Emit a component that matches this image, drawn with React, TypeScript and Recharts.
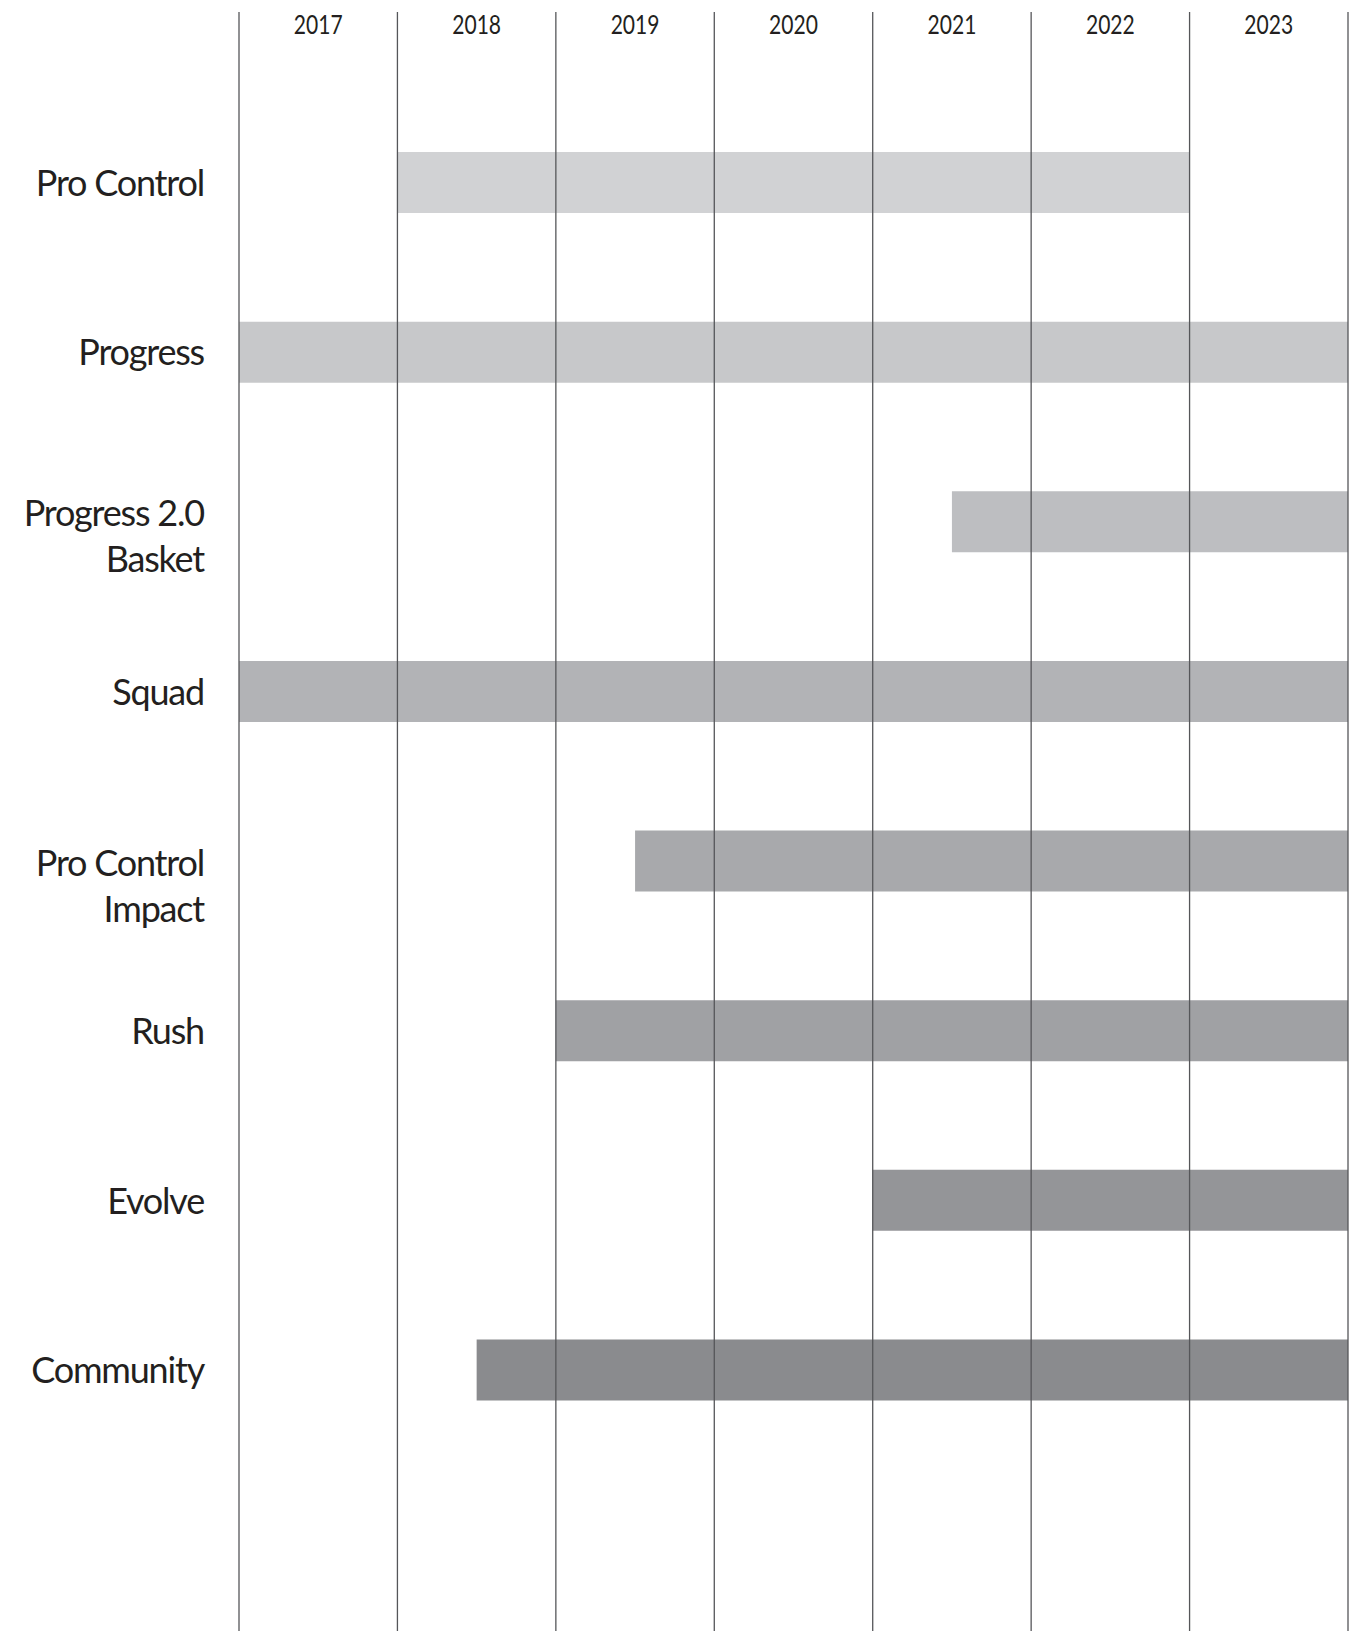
import { Bar, BarChart, Cell, ReferenceLine, XAxis, YAxis } from "recharts";

// product names, "\n" marks where the label wraps
const products = [
  "Pro Control",
  "Progress",
  "Progress 2.0\nBasket",
  "Squad",
  "Pro Control\nImpact",
  "Rush",
  "Evolve",
  "Community",
];

const startYears = [2018, 2017, 2021.5, 2017, 2019.5, 2019, 2021, 2018.5];
const endYears = [2023, 2024, 2024, 2024, 2024, 2024, 2024, 2024];

// year boundaries; each year label sits between two of them
const gridYears = [2017, 2018, 2019, 2020, 2021, 2022, 2023, 2024];

const barColors = [
  "#d1d2d4",
  "#c7c8ca",
  "#bdbec1",
  "#b2b3b6",
  "#a8a9ac",
  "#a0a1a4",
  "#949598",
  "#8a8b8e",
];

const data = products.map((name, i) => ({
  name,
  range: [startYears[i], endYears[i]],
}));

const INK = "#231f20";

// two-line labels don't sit the same way against their bars
const firstLineShift: Record<string, number> = {
  "Progress 2.0\nBasket": -9,
  "Pro Control\nImpact": 2,
};

function ProductTick({ x, y, payload }: any) {
  const value = String(payload?.value ?? "");
  const lines = value.split("\n");
  const shift = firstLineShift[value] ?? 0;

  return (
    <text
      x={x}
      y={y}
      textAnchor="end"
      fill={INK}
      style={{ fontFamily: "Lato, sans-serif", fontSize: 36, letterSpacing: -1.2 }}
    >
      {lines.map((line, i) => (
        <tspan key={i} x={x} y={y + shift + i * 46} dy="0.36em">
          {line}
        </tspan>
      ))}
    </text>
  );
}

function YearTick({ x, y, payload, index, width }: any) {
  // the last boundary has no year after it
  if (index >= gridYears.length - 1) return null;
  const half = Number(width) / (gridYears.length - 1) / 2;

  // the printed digits are condensed, so squeeze them a little sideways
  return (
    <text
      transform={`translate(${x + half}, ${y}) scale(0.78, 1)`}
      x={0}
      y={0}
      dy="0.36em"
      textAnchor="middle"
      fill={INK}
      style={{ fontFamily: "Lato, sans-serif", fontSize: 27 }}
    >
      {payload?.value}
    </text>
  );
}

export default function App() {
  return (
    <div style={{ position: "absolute", left: 0, top: 0, width: 1351, height: 1631, background: "#fff" }}>
      <BarChart
        width={1351}
        height={1631}
        data={data}
        layout="vertical"
        margin={{ top: 12, right: 3, bottom: 0, left: 0 }}
      >
        <XAxis
          type="number"
          orientation="top"
          domain={[2017, 2024]}
          ticks={gridYears}
          interval={0}
          mirror
          axisLine={false}
          tickLine={false}
          tickSize={0}
          tickMargin={12}
          tick={<YearTick />}
        />
        <YAxis
          type="category"
          dataKey="name"
          width={239}
          axisLine={false}
          tickLine={false}
          tickSize={0}
          tickMargin={35}
          padding={{ top: 86, bottom: 176 }}
          tick={<ProductTick />}
          interval={0}
        />
        <Bar dataKey="range" barSize={61} isAnimationActive={false}>
          {data.map((d, i) => (
            <Cell key={d.name} fill={barColors[i]} />
          ))}
        </Bar>
        {gridYears.map((year) => (
          <ReferenceLine
            key={year}
            x={year}
            stroke="#555659"
            strokeWidth={1.3}
            ifOverflow="visible"
          />
        ))}
      </BarChart>
    </div>
  );
}
